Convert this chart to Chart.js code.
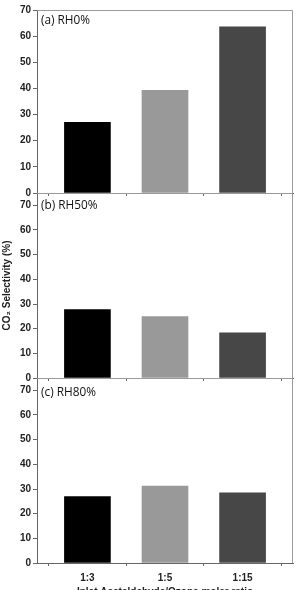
<!DOCTYPE html>
<html>
<head>
<meta charset="utf-8">
<script src="https://cdn.jsdelivr.net/npm/chart.js@4"></script>
<style>
  html, body { margin: 0; padding: 0; background: #fff; overflow: hidden; }
  body { width: 295px; height: 590px; position: relative; }
  .panel { position: absolute; left: 0; width: 295px; }
</style>
</head>
<body>
<div class="panel" style="top:0px;height:201px"><canvas id="rh0"></canvas></div>
<div class="panel" style="top:185px;height:201px"><canvas id="rh50"></canvas></div>
<div class="panel" style="top:370px;height:230px"><canvas id="rh80"></canvas></div>
<script>
const categories = ['1:3', '1:5', '1:15'];
const rh0 = [27.0, 39.3, 63.6];
const rh50 = [27.7, 24.9, 18.3];
const rh80 = [26.9, 31.2, 28.4];
const yTicks = [0, 10, 20, 30, 40, 50, 60, 70];
const barColors = ['#000000', '#999999', '#474747'];

const fontFamily = '"Liberation Sans", Arial, sans-serif';

// box round the plot and the panel label in the top left corner
const panelDecor = {
  id: 'panelDecor',
  afterDraw(chart, args, opts) {
    const a = chart.chartArea;
    const ctx = chart.ctx;
    ctx.save();
    ctx.strokeStyle = '#9a9a9a';
    ctx.lineWidth = 1;
    ctx.beginPath();
    ctx.moveTo(a.left, a.top + 0.5);
    ctx.lineTo(a.right - 0.5, a.top + 0.5);
    ctx.lineTo(a.right - 0.5, a.bottom);
    ctx.stroke();
    ctx.fillStyle = '#111';
    ctx.font = '11.8px "Open Sans", sans-serif';
    ctx.textBaseline = 'middle';
    ctx.fillText(opts.text, a.left + 4, a.top + opts.dy);
    ctx.restore();
  }
};

function makePanel(id, values, label, yMax, p) {
  const el = document.getElementById(id);
  if (!el) return;
  new Chart(el, {
    type: 'bar',
    data: {
      datasets: [{
        data: values.map((v, i) => ({ x: i, y: v })),
        backgroundColor: barColors,
        borderWidth: 0,
        barThickness: 46,
      }]
    },
    options: {
      responsive: true,
      maintainAspectRatio: false,
      animation: false,
      layout: { autoPadding: false, padding: { top: p.top, right: 2, left: 0, bottom: 0 } },
      plugins: {
        legend: { display: false },
        tooltip: { enabled: false },
        panelDecor: { text: label, dy: p.labelDy },
      },
      scales: {
        x: {
          type: 'linear',
          offset: false,
          min: -0.65,
          max: 2.65,
          afterBuildTicks: (s) => { s.ticks = categories.map((c, i) => ({ value: i })); },
          afterFit: (s) => { s.height = p.xHeight; },
          grid: { drawOnChartArea: false, drawTicks: true, tickLength: 3, color: '#666' },
          border: { color: '#666', width: 1 },
          ticks: {
            display: p.xLabels,
            padding: 6,
            color: '#222',
            font: { family: fontFamily, size: 10, weight: 'bold' },
            callback: (v) => categories[v],
          },
          title: {
            display: p.xLabels,
            text: 'Inlet Acetaldehyde/Ozone molar ratio',
            color: '#222',
            font: { family: fontFamily, size: 10, weight: 'bold' },
            padding: { top: 0, bottom: 2 },
          },
        },
        y: {
          min: 0,
          max: yMax,
          afterBuildTicks: (s) => { s.ticks = yTicks.map((v) => ({ value: v })); },
          afterFit: (s) => { s.width = 37; },
          grid: { drawOnChartArea: false, drawTicks: true, tickLength: 4, color: '#666' },
          border: { color: '#666', width: 1 },
          ticks: {
            padding: 2,
            color: '#222',
            font: { family: fontFamily, size: 10, weight: 'bold' },
          },
          title: {
            display: p.yTitle,
            text: 'CO\u2082 Selectivity (%)',
            color: '#222',
            font: { family: fontFamily, size: 10, weight: 'bold' },
            padding: { top: 1, bottom: 0 },
          },
        },
      },
    },
    plugins: [panelDecor],
  });
}

makePanel('rh0', rh0, '(a) RH0%', 70, { top: 10, xHeight: 7, xLabels: false, yTitle: false, labelDy: 11 });
makePanel('rh50', rh50, '(b) RH50%', 75, { top: 0, xHeight: 7, xLabels: false, yTitle: true, labelDy: 13 });
makePanel('rh80', rh80, '(c) RH80%', 75, { top: 0, xHeight: 37, xLabels: true, yTitle: false, labelDy: 15 });
</script>
</body>
</html>
